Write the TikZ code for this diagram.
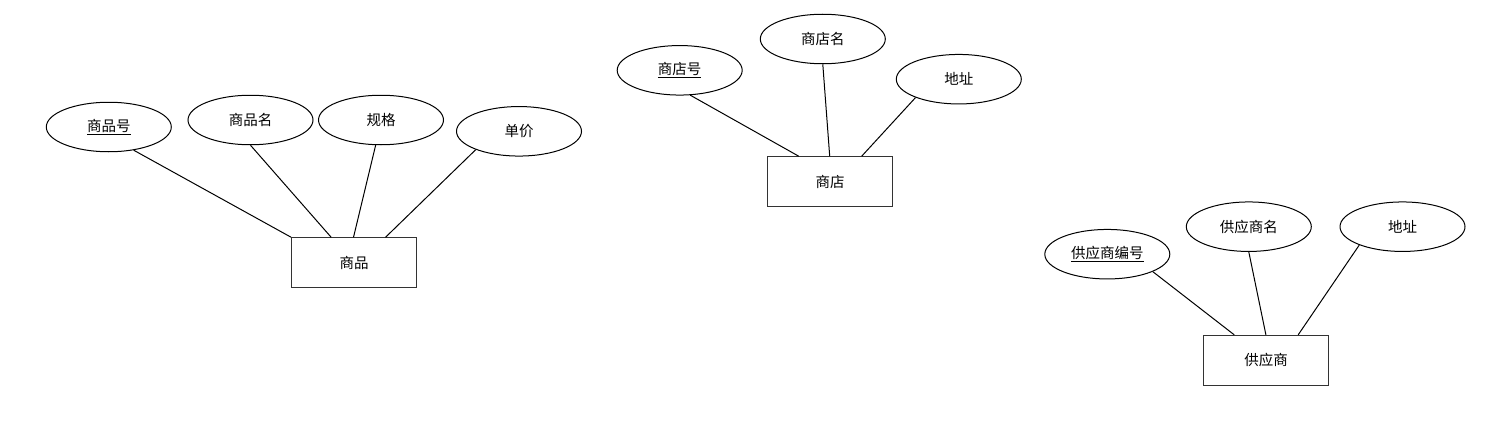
\documentclass[tikz,border=0pt]{standalone}
\usepackage{fontspec}
\newfontfamily\cjk{Noto Sans CJK SC}
\usetikzlibrary{shapes.geometric,calc}
\begin{document}
\begin{tikzpicture}[x=1pt,y=-1pt,
  attr/.style={ellipse,draw=black,line width=1pt,minimum width=125pt,minimum height=49.5pt,inner sep=0pt,font=\cjk\fontsize{14.5}{17}\selectfont},
  ent/.style={rectangle,draw=black!80,line width=1pt,minimum width=125pt,minimum height=50pt,inner sep=0pt,font=\cjk\fontsize{14.5}{17}\selectfont},
  link/.style={draw=black,line width=1pt}]
\useasboundingbox (0,0) rectangle (1486,428);
% group 1
\node[attr] (a1) at (108.8,127) {\underline{商品号}};
\node[attr] (a2) at (250.5,120) {商品名};
\node[attr] (a3) at (381,120) {规格};
\node[attr] (a4) at (519,131.3) {单价};
\node[ent] (e1) at (354.2,262.8) {商品};
\draw[link] (a1.-43.3) -- (e1.north west);
\draw[link] (a2.south) -- ($(e1.north west)+(40,0)$);
\draw[link] (a3.-102) -- ($(e1.north west)+(62.3,0)$);
\draw[link] (a4.-157) -- ($(e1.north west)+(94.3,0)$);
% group 2
\node[attr] (b1) at (679.7,70.3) {\underline{商店号}};
\node[attr] (b2) at (822.8,39) {商店名};
\node[attr] (b3) at (958.8,79.2) {地址};
\node[ent] (e2) at (830,181.7) {商店};
\draw[link] (b1.-67.4) -- ($(e2.north west)+(31.7,0)$);
\draw[link] (b2.south) -- ($(e2.north west)+(62.7,0)$);
\draw[link] (b3.-157.2) -- ($(e2.north west)+(94.7,0)$);
% group 3
\node[attr] (c1) at (1107.3,254.2) {\underline{供应商编号}};
\node[attr] (c2) at (1248.8,226.7) {供应商名};
\node[attr] (c3) at (1402.5,226.7) {地址};
\node[ent] (e3) at (1266.2,360.3) {供应商};
\draw[link] (c1.-21.5) -- ($(e3.north west)+(31,0)$);
\draw[link] (c2.south) -- ($(e3.north west)+(62.7,0)$);
\draw[link] (c3.-157.5) -- ($(e3.north west)+(95,0)$);
\end{tikzpicture}
\end{document}
